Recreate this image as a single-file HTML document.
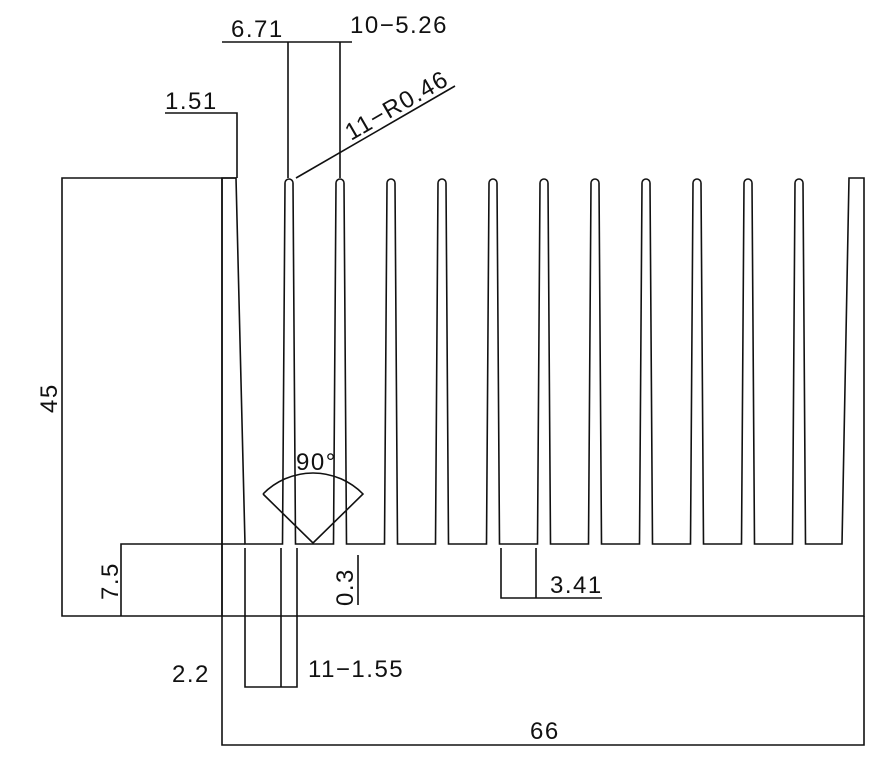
<!DOCTYPE html>
<html><head><meta charset="utf-8"><style>
html,body{margin:0;padding:0;background:#fff}
svg{display:block}
text{font-family:"Liberation Sans",sans-serif;font-size:24px;letter-spacing:1.5px;fill:#111}
</style></head><body>
<svg width="889" height="764" viewBox="0 0 889 764" xmlns="http://www.w3.org/2000/svg">
<g fill="none" stroke="#111" stroke-width="1.6">
<path d="M222,616 L222,178 L236,178 L245,544
L282.5,544 L285,183 A4,4 0 0 1 293,183 L295.5,544
L333.5,544 L336,183 A4,4 0 0 1 344,183 L346.5,544
L384.5,544 L387,183 A4,4 0 0 1 395,183 L397.5,544
L435.5,544 L438,183 A4,4 0 0 1 446,183 L448.5,544
L486.5,544 L489,183 A4,4 0 0 1 497,183 L499.5,544
L537.5,544 L540,183 A4,4 0 0 1 548,183 L550.5,544
L588.5,544 L591,183 A4,4 0 0 1 599,183 L601.5,544
L639.5,544 L642,183 A4,4 0 0 1 650,183 L652.5,544
L690.5,544 L693,183 A4,4 0 0 1 701,183 L703.5,544
L741.5,544 L744,183 A4,4 0 0 1 752,183 L754.5,544
L792.5,544 L795,183 A4,4 0 0 1 803,183 L805.5,544
L842,544 L849,178 L864,178 L864,616 Z"/>
<path d="M222,178 L222,745 L864,745 L864,616"/>
<path d="M222,42 L352,42 M288,42 L288,178 M340,42 L340,178"/>
<path d="M165,113 L237,113 L237,178"/>
<path d="M296,178 L455,86"/>
<path d="M236,178 L62,178 L62,616 L222,616"/>
<path d="M245,544 L121,544 L121,616"/>
<path d="M358,555 L358,605"/>
<path d="M501,548 L501,598 L602,598 M536,548 L536,598"/>
<path d="M245,548 L245,687 L297,687 L297,548 M281,548 L281,687"/>
<path d="M263,494 L313,543 L363,494 A70,70 0 0 0 263,494"/>
</g>
<text x="231" y="37">6.71</text>
<text x="350" y="33">10−5.26</text>
<text x="165" y="109">1.51</text>
<text transform="translate(351,141) rotate(-30)">11−R0.46</text>
<text transform="translate(57,413) rotate(-90)">45</text>
<text transform="translate(118,600) rotate(-90)">7.5</text>
<text transform="translate(353,606) rotate(-90)">0.3</text>
<text x="550" y="593">3.41</text>
<text x="308" y="677">11−1.55</text>
<text x="172" y="682">2.2</text>
<text x="530" y="739">66</text>
<text x="296" y="470">90°</text>
</svg>
</body></html>
